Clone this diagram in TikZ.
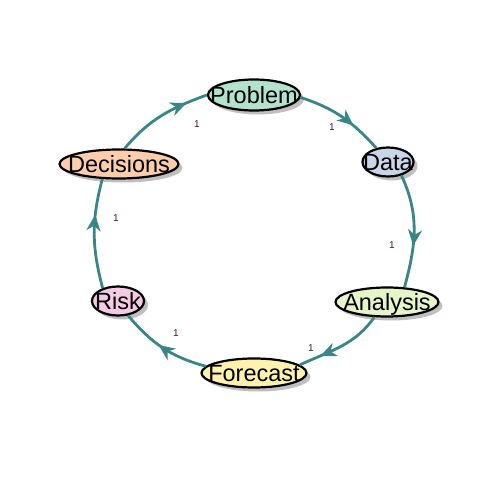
\documentclass[tikz,border=0pt]{standalone}
\usepackage{fontspec}
\setmainfont{Liberation Sans}
\usepackage{tikz}
\usetikzlibrary{shapes.geometric, shadows, decorations.markings, arrows.meta}
\tikzset{>=Stealth}
\usepackage{xcolor}
\definecolor{edgeteal}{RGB}{58,134,134}
\definecolor{wlabel}{RGB}{75,20,50}
\definecolor{cproblem}{HTML}{B3E2CD}
\definecolor{cdata}{HTML}{CBD5E8}
\definecolor{canalysis}{HTML}{E6F5C9}
\definecolor{cforecast}{HTML}{FFF2AE}
\definecolor{crisk}{HTML}{F4CAE4}
\definecolor{cdecisions}{HTML}{FDCDAC}
\newcommand{\vlabel}[1]{\makebox[0pt]{#1}}
\tikzset{
	vertex/.style={ellipse, draw=black, line width=2.2pt, inner sep=0pt, minimum height=29pt,
		text height=16.8pt, text depth=0pt, font=\fontsize{23.5}{26}\selectfont,
		drop shadow={shadow xshift=4pt, shadow yshift=-4pt, fill=black!25, opacity=1}},
	flow/.style={draw=edgeteal, line width=2.8pt, postaction={decorate},
		decoration={markings, mark=at position #1 with {\arrow[edgeteal]{Stealth[length=16pt,width=14pt,inset=5pt]}}}},
	flow/.default=0.65,
	weight/.style={font=\fontsize{10}{12}\selectfont, text=wlabel, inner sep=0pt}
}
\begin{document}
\begin{tikzpicture}[x=1pt,y=1pt]
	\useasboundingbox (0,0) rectangle (480,480);
	\node [vertex, fill=cproblem, minimum width=92pt, minimum height=31pt] (problem) at (254,385) {\vlabel{Problem}};
	\node [vertex, fill=cdata, minimum width=51pt] (data) at (388,318) {\vlabel{Data}};
	\node [vertex, fill=canalysis, minimum width=103pt] (analysis) at (387,178) {\vlabel{Analysis}};
	\node [vertex, fill=cforecast, minimum width=105pt] (forecast) at (254,107) {\vlabel{Forecast}};
	\node [vertex, fill=crisk, minimum width=52pt] (risk) at (118,179) {\vlabel{Risk}};
	\node [vertex, fill=cdecisions, minimum width=119pt] (decisions) at (119,316) {\vlabel{Decisions}};
	\draw [flow=0.65] (problem.-3) to [out=-18,in=132] (data.130);
	\draw [flow=0.63] (data.-45) to [out=-65,in=75] (analysis.40);
	\draw [flow=0.75] (analysis.-130) to [out=-125,in=25] (forecast.10);
	\draw [flow=0.55] (forecast.172) to [out=165,in=-50] (risk.-55);
	\draw [flow=0.67] (risk.140) to [out=105,in=-105] (decisions.-138);
	\draw [flow=0.78] (decisions.70) to [out=50,in=200] (problem.180);
	\node [weight] (w1) at (332,353) {1};
	\node [weight] (w2) at (392,235) {1};
	\node [weight] (w3) at (311,132) {1};
	\node [weight] (w4) at (176,147) {1};
	\node [weight] (w5) at (116,262) {1};
	\node [weight] (w6) at (197,356) {1};
\end{tikzpicture}
\end{document}
